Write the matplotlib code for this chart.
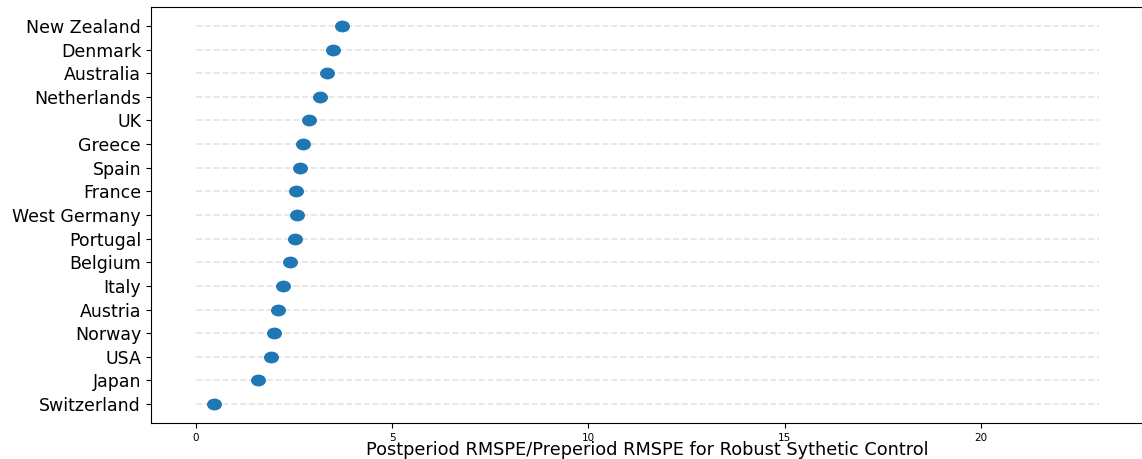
import matplotlib
matplotlib.use("Agg")
import matplotlib.pyplot as plt
from matplotlib.path import Path
import numpy as np

# ratio of post/pre period RMSPE per country, sorted ascending
countries = ["Switzerland", "Japan", "USA", "Norway", "Austria", "Italy", "Belgium",
             "Portugal", "West Germany", "France", "Spain", "Greece", "UK",
             "Netherlands", "Australia", "Denmark", "New Zealand"]
ratios = [0.47, 1.57, 1.91, 2.00, 2.09, 2.23, 2.39,
          2.53, 2.57, 2.56, 2.65, 2.73, 2.88,
          3.16, 3.33, 3.49, 3.72]
grid_end = 23

# slightly wide dot marker
circle = Path.unit_circle()
oval = Path(circle.vertices * [1.3, 1.0], circle.codes)

fig = plt.figure(figsize=(11.42, 4.59), dpi=100)
ax = fig.add_axes([0.132, 0.0784, 0.8697, 0.9063])

ypos = np.arange(len(countries))
ax.hlines(ypos, 0, grid_end, colors="lightgray", linestyles="dashed", alpha=0.6, linewidth=1.2)
ax.scatter(ratios, ypos, s=95, marker=oval, color="#1f77b4", zorder=3)

ax.set_yticks(ypos)
ax.set_yticklabels(countries, fontsize=12.5)
ax.set_xticks([0, 5, 10, 15, 20])
ax.tick_params(axis="x", labelsize=7.5)
ax.set_xlabel("Postperiod RMSPE/Preperiod RMSPE for Robust Sythetic Control",
              fontsize=12.8, labelpad=-1)

fig.savefig("out.png", dpi=100)
